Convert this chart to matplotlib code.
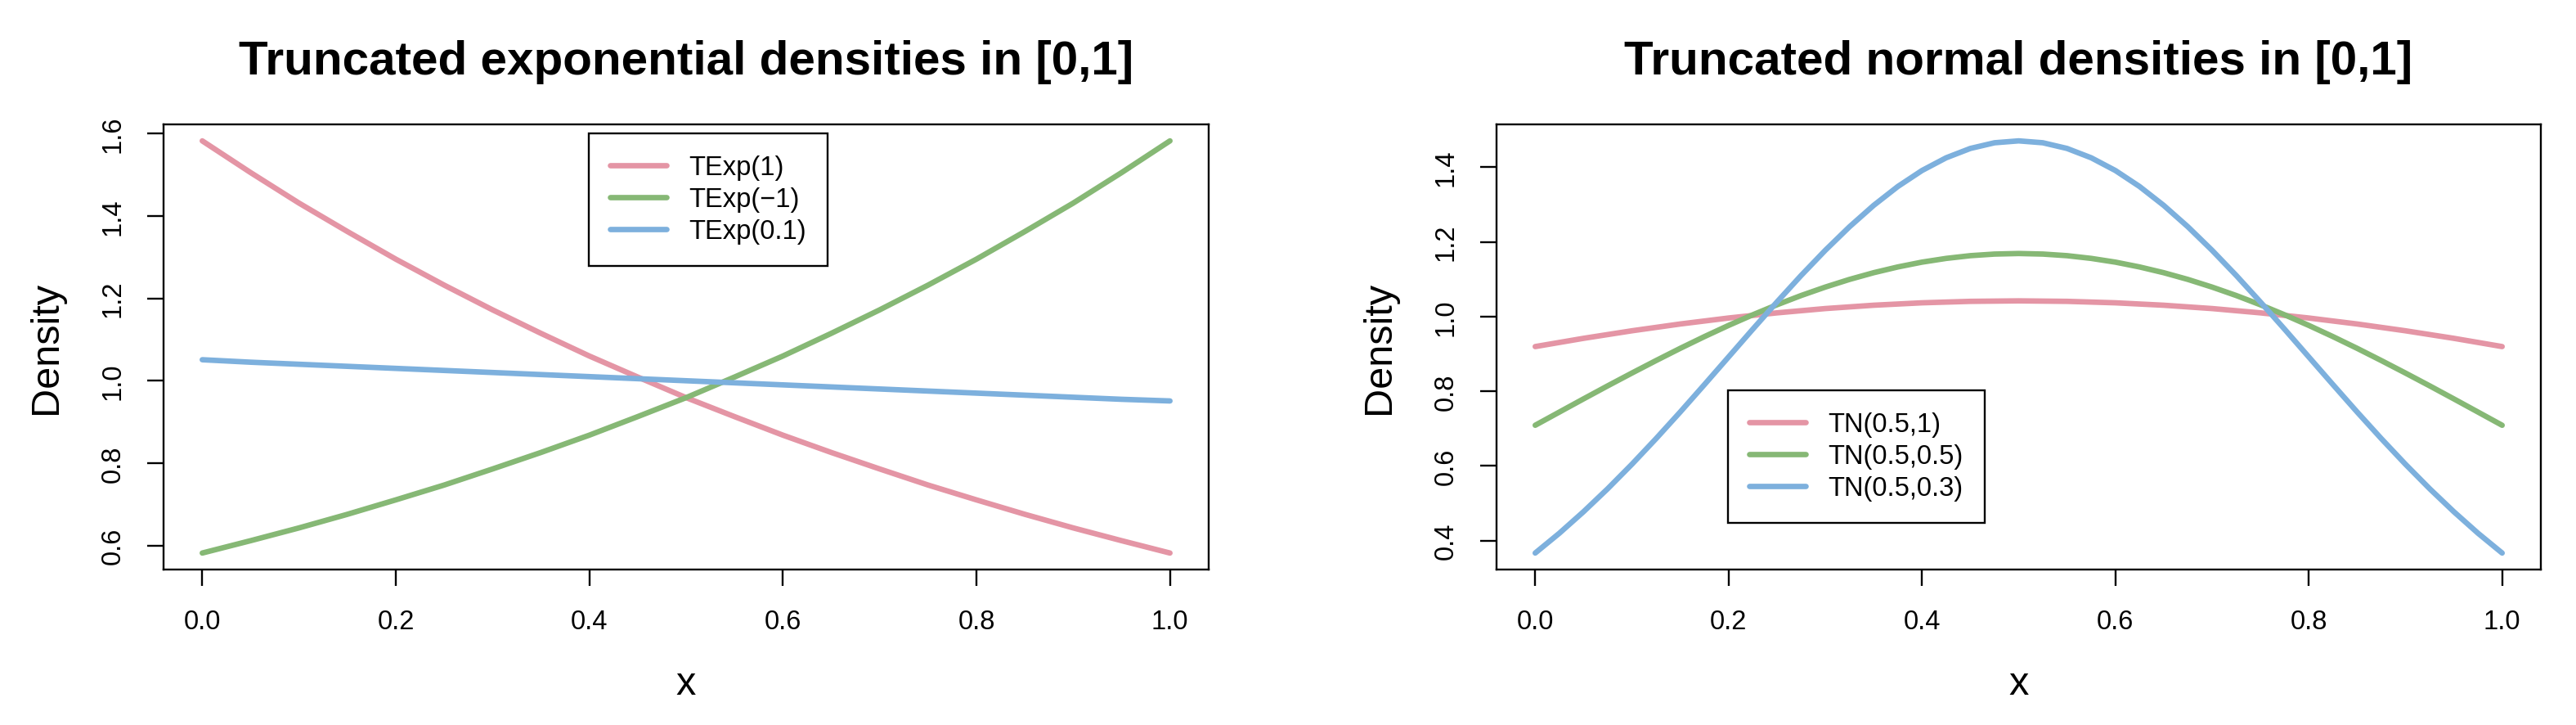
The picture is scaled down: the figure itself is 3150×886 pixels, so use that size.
#!/usr/bin/env python3
#
#   Truncated exponential / truncated normal densities on [0,1], side by side
#
import matplotlib
matplotlib.use("Agg")
import matplotlib.pyplot as plt
import numpy as np

# grids the curves were read on
x_coarse = np.linspace(0, 1, 21)
x_fine = np.linspace(0, 1, 41)

# left panel: TExp(lambda)
texp_1 = [1.582, 1.505, 1.431, 1.362, 1.295, 1.232, 1.172, 1.115, 1.060, 1.009, 0.959,
          0.913, 0.868, 0.826, 0.786, 0.747, 0.711, 0.676, 0.643, 0.612, 0.582]
texp_m1 = [0.582, 0.612, 0.643, 0.676, 0.711, 0.747, 0.786, 0.826, 0.868, 0.913, 0.959,
           1.009, 1.060, 1.115, 1.172, 1.232, 1.295, 1.362, 1.431, 1.505, 1.582]
texp_01 = [1.051, 1.045, 1.040, 1.035, 1.030, 1.025, 1.020, 1.015, 1.010, 1.005, 1.000,
           0.995, 0.990, 0.985, 0.980, 0.975, 0.970, 0.965, 0.960, 0.955, 0.951]
exp_labels = ["TExp(1)", "TExp(\u22121)", "TExp(0.1)"]

# right panel: TN(mu, sigma)
tn_1 = [0.9195, 0.9416, 0.9618, 0.9800, 0.9960, 1.0098, 1.0213, 1.0302, 1.0367, 1.0406, 1.0419,
        1.0406, 1.0367, 1.0302, 1.0213, 1.0098, 0.9960, 0.9800, 0.9618, 0.9416, 0.9195]
tn_05 = [0.7088, 0.7442, 0.7795, 0.8144, 0.8486, 0.8821, 0.9148, 0.9462, 0.9762, 1.0046,
         1.0314, 1.0562, 1.0788, 1.0993, 1.1173, 1.1327, 1.1456, 1.1556, 1.1629, 1.1672,
         1.1687, 1.1672, 1.1629, 1.1556, 1.1456, 1.1327, 1.1173, 1.0993, 1.0788, 1.0562,
         1.0314, 1.0046, 0.9762, 0.9462, 0.9148, 0.8821, 0.8486, 0.8144, 0.7795, 0.7442,
         0.7088]
tn_03 = [0.3667, 0.4198, 0.4774, 0.5390, 0.6044, 0.6731, 0.7444, 0.8177, 0.8918, 0.9660,
         1.0389, 1.1099, 1.1773, 1.2402, 1.2975, 1.3481, 1.3909, 1.4250, 1.4500, 1.4652,
         1.4703, 1.4652, 1.4500, 1.4250, 1.3909, 1.3481, 1.2975, 1.2402, 1.1773, 1.1099,
         1.0389, 0.9660, 0.8918, 0.8177, 0.7444, 0.6731, 0.6044, 0.5390, 0.4774, 0.4198,
         0.3667]
tn_labels = ["TN(0.5,1)", "TN(0.5,0.5)", "TN(0.5,0.3)"]

x_ticks = [0.0, 0.2, 0.4, 0.6, 0.8, 1.0]
y_ticks_left = [0.6, 0.8, 1.0, 1.2, 1.4, 1.6]
y_ticks_right = [0.4, 0.6, 0.8, 1.0, 1.2, 1.4]

colors = ["#E495A5", "#86B875", "#7DB0DD"]

plt.rcParams["font.family"] = ["Liberation Sans", "DejaVu Sans"]

W, H = 3150, 887
fig = plt.figure(figsize=(W / 100, H / 100), dpi=100)

LW = 4.8
SPINE = 1.7


def style_axes(ax, yticks, title):
    ax.margins(x=0.04, y=0.04)
    for s in ax.spines.values():
        s.set_linewidth(SPINE)
    ax.set_xticks(x_ticks)
    ax.set_xticklabels(["%.1f" % v for v in x_ticks])
    ax.set_yticks(yticks)
    ax.set_yticklabels(["%.1f" % v for v in yticks], rotation=90, va="center")
    ax.tick_params(axis="both", direction="out", length=14.5, width=SPINE,
                   labelsize=23.5, top=False, right=False)
    ax.tick_params(axis="x", pad=20)
    ax.tick_params(axis="y", pad=19)
    ax.set_xlabel("x", fontsize=35)
    ax.set_ylabel("Density", fontsize=35)
    ax.xaxis.set_label_coords(0.5, -0.257)
    ax.xaxis.label.set_va("center")
    ax.yaxis.set_label_coords(-0.112, 0.5)
    ax.yaxis.label.set_va("center")
    ax.text(0.5, 1.114, title, transform=ax.transAxes, ha="center", va="baseline",
            fontsize=42, fontweight="bold")


def add_legend(ax, labels, x_px, y_px):
    leg = ax.legend(labels, loc="upper left", bbox_to_anchor=(x_px / W, 1 - y_px / H),
                    bbox_transform=fig.transFigure, fontsize=23.5, fancybox=False,
                    framealpha=1, edgecolor="black", handlelength=2.1, handletextpad=0.85,
                    labelspacing=0.25, borderpad=0.8, borderaxespad=0)
    leg.get_frame().set_linewidth(SPINE)


# left panel
ax1 = fig.add_axes([200 / W, 1 - 697 / H, 1278 / W, 544 / H])
for ys, c in zip([texp_1, texp_m1, texp_01], colors):
    ax1.plot(x_coarse, ys, color=c, lw=LW, solid_capstyle="round", solid_joinstyle="round")
style_axes(ax1, y_ticks_left, "Truncated exponential densities in [0,1]")
add_legend(ax1, exp_labels, 720, 164)

# right panel
ax2 = fig.add_axes([1830 / W, 1 - 697 / H, 1277 / W, 544 / H])
for ys, c in zip([tn_1, tn_05, tn_03], colors):
    xs = x_coarse if len(ys) == len(x_coarse) else x_fine
    ax2.plot(xs, ys, color=c, lw=LW, solid_capstyle="round", solid_joinstyle="round")
style_axes(ax2, y_ticks_right, "Truncated normal densities in [0,1]")
add_legend(ax2, tn_labels, 2113, 478)

fig.savefig("out.png", dpi=100, facecolor="white")
